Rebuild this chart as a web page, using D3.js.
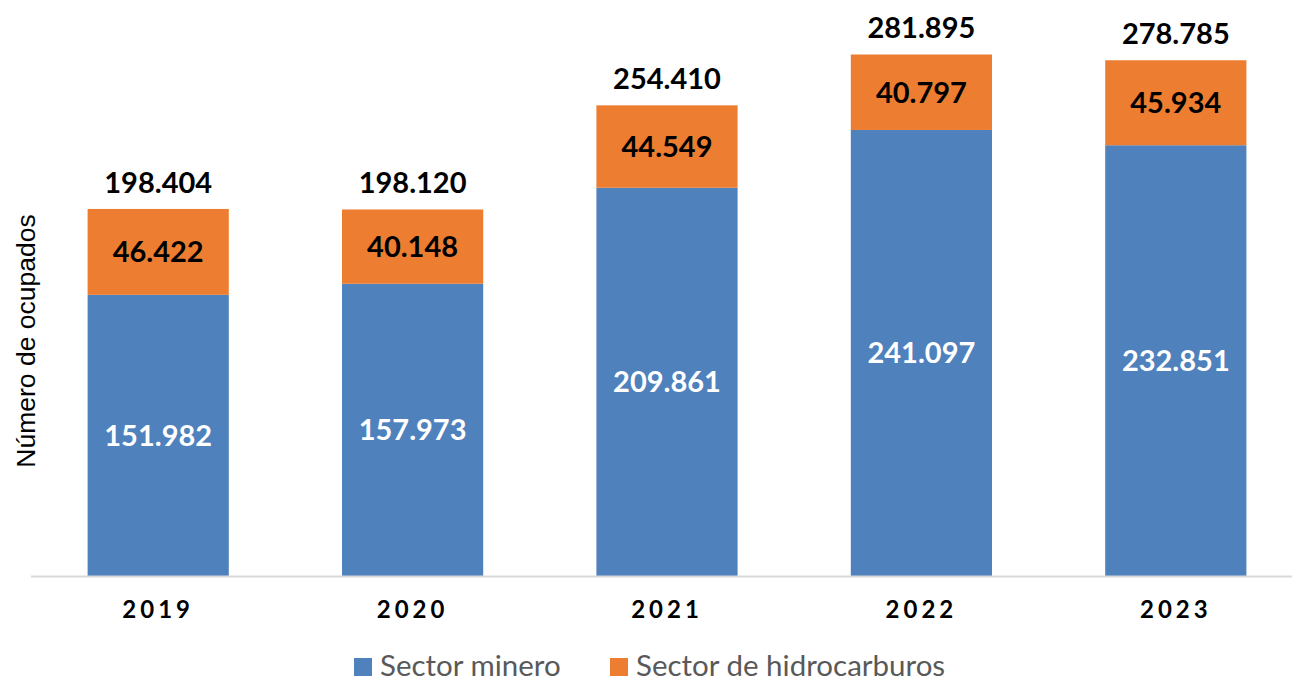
<!DOCTYPE html>
<html>
<head>
<meta charset="utf-8">
<script src="https://cdn.jsdelivr.net/npm/d3@7"></script>
<style>
  body { margin: 0; background: #fff; }
  svg { display: block; }
</style>
</head>
<body>
<script>
'use strict';

// data
const years = ["2019", "2020", "2021", "2022", "2023"];
const minero = [151982, 157973, 209861, 241097, 232851];
const hidrocarburos = [46422, 40148, 44549, 40797, 45934];
const totals = [198404, 198120, 254410, 281895, 278785];
const seriesNames = ["Sector minero", "Sector de hidrocarburos"];
const seriesColors = ["#4f81bd", "#ed7d31"];

const width = 1292, height = 681;
const baseY = 576;

const svg = d3.select("body").append("svg")
  .attr("width", width)
  .attr("height", height);

const fmt = n => d3.format(",")(n).replace(/,/g, ".");

const x = d3.scaleBand()
  .domain(years)
  .range([31, 1303])
  .paddingInner(0.445)
  .paddingOuter(0.2225);

const y = d3.scaleLinear()
  .domain([0, 300000])
  .range([baseY, 21]);

// stack the two series
const rows = years.map((yr, i) => ({ year: yr, minero: minero[i], hidro: hidrocarburos[i], total: totals[i] }));
const stack = d3.stack().keys(["minero", "hidro"])(rows);

const layers = svg.selectAll("g.layer")
  .data(stack)
  .enter()
  .append("g")
  .attr("class", "layer")
  .attr("fill", (d, i) => seriesColors[i]);

layers.selectAll("rect")
  .data(d => d)
  .enter()
  .append("rect")
  .attr("x", d => x(d.data.year))
  .attr("width", x.bandwidth())
  .attr("y", d => y(d[1]))
  .attr("height", d => y(d[0]) - y(d[1]));

// baseline
svg.append("line")
  .attr("x1", 31)
  .attr("x2", width)
  .attr("y1", baseY + 0.5)
  .attr("y2", baseY + 0.5)
  .attr("stroke", "#d9d9d9")
  .attr("stroke-width", 2);

// segment labels
layers.selectAll("text")
  .data((d, i) => d.map(p => ({ p: p, k: i })))
  .enter()
  .append("text")
  .attr("x", d => x(d.p.data.year) + x.bandwidth() / 2)
  .attr("y", d => (y(d.p[0]) + y(d.p[1])) / 2)
  .attr("dy", "0.36em")
  .attr("text-anchor", "middle")
  .style("font-family", "Lato, sans-serif")
  .style("font-weight", "bold")
  .style("font-size", "29px")
  .attr("fill", d => d.k === 0 ? "#ffffff" : "#000000")
  .text(d => fmt(d.k === 0 ? d.p.data.minero : d.p.data.hidro));

// total labels
svg.selectAll(".total")
  .data(rows)
  .enter()
  .append("text")
  .attr("class", "total")
  .attr("x", d => x(d.year) + x.bandwidth() / 2)
  .attr("y", d => y(d.total) - 16)
  .attr("text-anchor", "middle")
  .style("font-family", "Lato, sans-serif")
  .style("font-weight", "bold")
  .style("font-size", "29px")
  .attr("fill", "#000")
  .text(d => fmt(d.total));

// x axis labels
const xAxis = d3.axisBottom(x).tickSize(0).tickPadding(0);
const gx = svg.append("g")
  .attr("transform", "translate(0, " + baseY + ")")
  .call(xAxis);
gx.select(".domain").remove();
gx.selectAll("text")
  .attr("y", 42)
  .attr("dy", 0)
  .style("font-family", "Lato, sans-serif")
  .style("font-weight", "bold")
  .style("font-size", "24px")
  .style("letter-spacing", "4px")
  .attr("fill", "#000");

// y axis title
svg.append("text")
  .attr("transform", "translate(35, 341) rotate(-90)")
  .attr("text-anchor", "middle")
  .style("font-family", "Liberation Sans, Arial, sans-serif")
  .style("font-size", "26.5px")
  .attr("fill", "#000")
  .text("Número de ocupados");

// legend
const legendX = [354, 610];
const legend = svg.selectAll(".legend")
  .data(seriesNames)
  .enter()
  .append("g")
  .attr("class", "legend")
  .attr("transform", (d, i) => "translate(" + legendX[i] + ", 658)");
legend.append("rect")
  .attr("width", 18)
  .attr("height", 18)
  .attr("fill", (d, i) => seriesColors[i]);
legend.append("text")
  .attr("x", 26)
  .attr("y", 18)
  .style("font-family", "Lato, sans-serif")
  .style("font-size", "29.5px")
  .attr("fill", "#595959")
  .text(d => d);
</script>
</body>
</html>
